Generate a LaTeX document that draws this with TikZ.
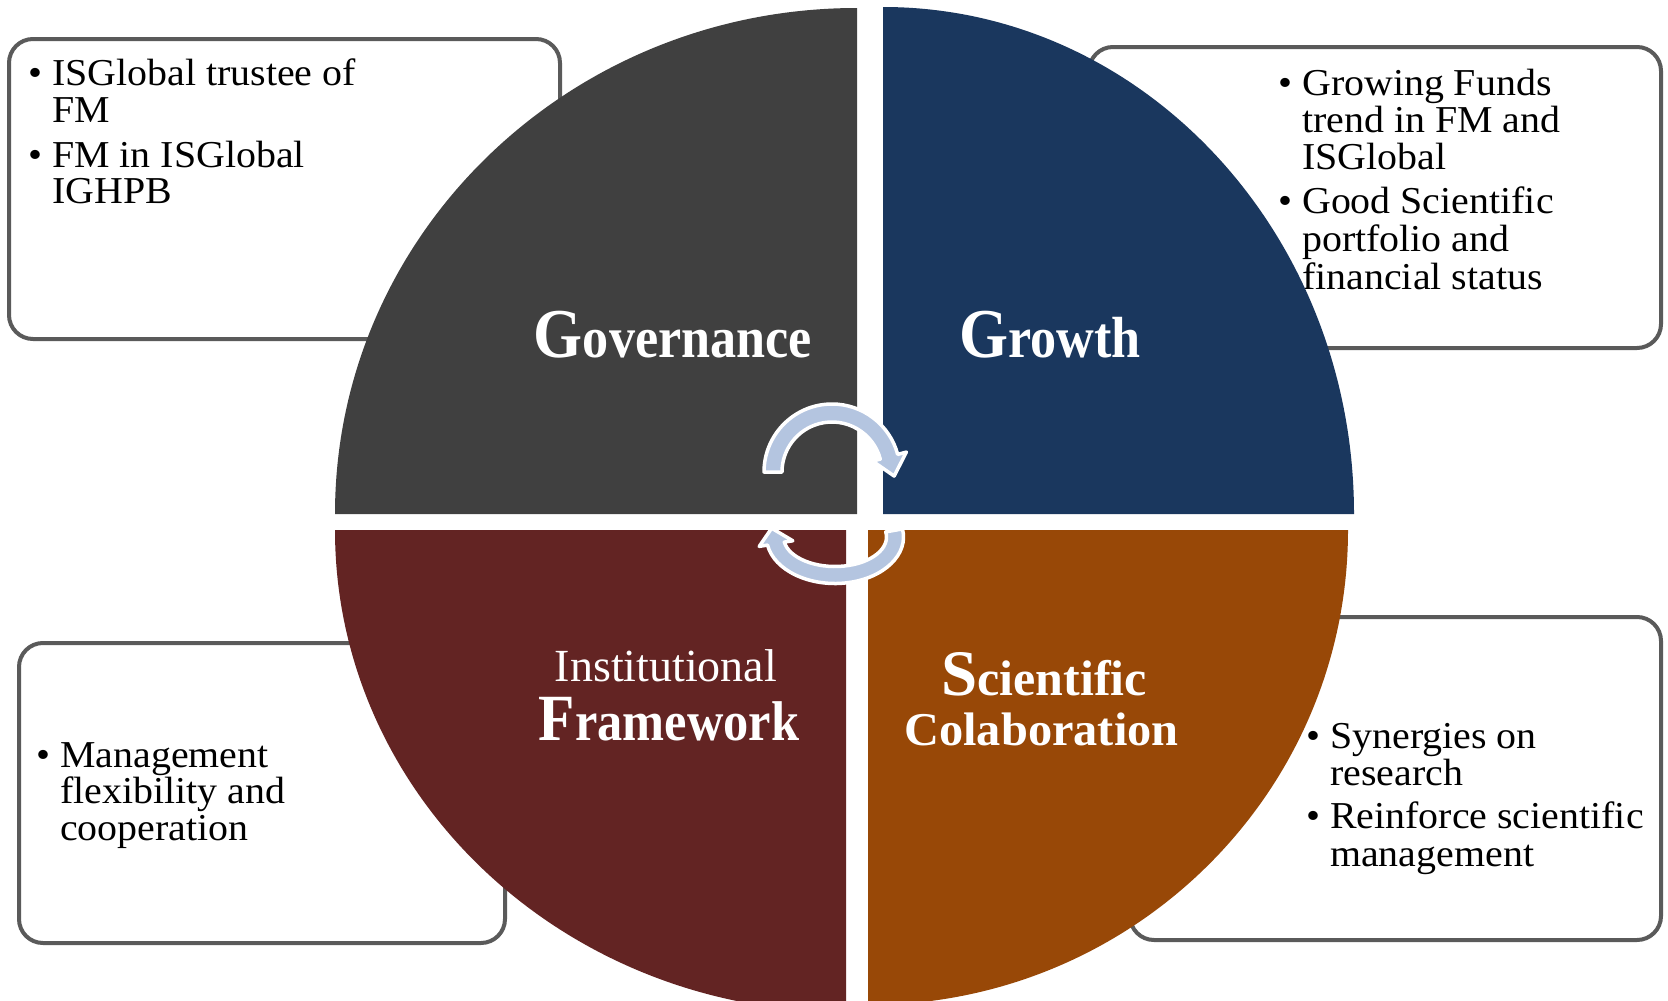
\documentclass[tikz,border=0pt]{standalone}
\usepackage{fontspec}
\setmainfont{Liberation Serif}
\newfontfamily\bodyf{Liberation Serif}[FakeStretch=1.05]
\newfontfamily\plainf{Liberation Serif}
\newfontfamily\headf{Liberation Serif}[FakeStretch=0.9]
\newfontfamily\widef{Liberation Serif}[FakeStretch=1.03]
\usetikzlibrary{calc}
\definecolor{secgray}{HTML}{404040}
\definecolor{secblue}{HTML}{1A375E}
\definecolor{secred}{HTML}{632423}
\definecolor{secorange}{HTML}{984807}
\definecolor{arrowblue}{HTML}{B4C5E0}
\definecolor{boxline}{HTML}{5A5A5A}
\tikzset{
  infobox/.style={draw=boxline, fill=white, line width=4pt, rounded corners=24pt, inner sep=0pt},
  bodyline/.style={anchor=base west, inner sep=0pt, font=\bodyf\fontsize{38}{38}\selectfont},
  bulletmark/.style={anchor=base west, inner sep=0pt, font=\bodyf\fontsize{38}{38}\selectfont},
  heading/.style={anchor=base, inner sep=0pt, text=white},
  cyclearrow/.style={fill=arrowblue, draw=white, line width=3.5pt, line join=round},
}
\begin{document}
\begin{tikzpicture}[x=1pt,y=1pt]
\useasboundingbox (0,0) rectangle (1668,-1001);
\fill[white] (0,0) rectangle (1668,-1001);

% ---- side boxes
\node[infobox, minimum width=551pt, minimum height=300pt] (boxTL) at (284.5,-189) {};
\node[infobox, minimum width=572pt, minimum height=301pt] (boxTR) at (1375,-197.5) {};
\node[infobox, minimum width=486pt, minimum height=300pt] (boxBL) at (262,-793) {};
\node[infobox, minimum width=531pt, minimum height=323pt] (boxBR) at (1395.5,-778.5) {};

% ---- box texts
% top left
\node[bulletmark] (tlb1) at (28,-85) {•};
\node[bodyline] (tl1) at (52,-85) {ISGlobal trustee of};
\node[bodyline] (tl2) at (52,-122) {FM};
\node[bulletmark] (tlb2) at (28,-167) {•};
\node[bodyline] (tl3) at (52,-167) {FM in ISGlobal};
\node[bodyline] (tl4) at (52,-203) {IGHPB};
% top right
\node[bulletmark] (trb1) at (1278,-95) {•};
\node[bodyline] (tr1) at (1302,-95) {Growing Funds};
\node[bodyline] (tr2) at (1302,-132) {trend in FM and};
\node[bodyline] (tr3) at (1302,-169) {ISGlobal};
\node[bulletmark] (trb2) at (1278,-213) {•};
\node[bodyline] (tr4) at (1302,-213) {Good Scientific};
\node[bodyline] (tr5) at (1302,-251) {portfolio and};
\node[bodyline] (tr6) at (1302,-289) {financial status};
% bottom left
\node[bulletmark] (blb1) at (36,-767) {•};
\node[bodyline] (bl1) at (60,-767) {Management};
\node[bodyline] (bl2) at (60,-803) {flexibility and};
\node[bodyline] (bl3) at (60,-840) {cooperation};
% bottom right
\node[bulletmark] (brb1) at (1306,-748) {•};
\node[bodyline] (br1) at (1330,-748) {Synergies on};
\node[bodyline] (br2) at (1330,-785) {research};
\node[bulletmark] (brb2) at (1306,-828) {•};
\node[bodyline] (br3) at (1330,-828) {Reinforce scientific};
\node[bodyline] (br4) at (1330,-866) {management};

% ---- four sectors
\fill[secgray] (857,-514) -- (335,-514) arc[start angle=180, end angle=90, x radius=522, y radius=506] -- cycle;
\fill[secblue] (883,-514) -- (883,-7) arc[start angle=90, end angle=0, x radius=471, y radius=507] -- cycle;
\fill[secred] (846,-530) -- (335,-530) arc[start angle=180, end angle=270, x radius=511, y radius=482] -- cycle;
\fill[secorange] (868,-530) -- (1348,-530) arc[start angle=0, end angle=-90, x radius=480, y radius=475] -- cycle;

% ---- headings
\node[heading, font=\headf\bfseries] (gov) at (673,-357)
  {\fontsize{70}{70}\selectfont G\fontsize{58}{58}\selectfont overnance};
\node[heading, font=\headf\bfseries] (gro) at (1050,-357)
  {\fontsize{70}{70}\selectfont G\fontsize{58}{58}\selectfont rowth};
\node[heading, font=\plainf\fontsize{46}{46}\selectfont] (inst) at (666,-681) {Institutional};
\node[heading, font=\headf\bfseries] (fra) at (669,-740)
  {\fontsize{66}{66}\selectfont F\fontsize{56}{56}\selectfont ramework};
\node[heading, font=\plainf\bfseries] (sci) at (1044,-695)
  {\fontsize{65}{65}\selectfont S\fontsize{50}{50}\selectfont cientific};
\node[heading, font=\widef\bfseries\fontsize{47}{47}\selectfont] (col) at (1041.5,-745) {Colaboration};

% ---- cycle arrows
\coordinate (c1) at (832,-472);
\path[cyclearrow] ($(c1)+(180:68)$) arc[start angle=180, end angle=15, radius=68]
  -- ($(c1)+(15:77)$) -- ($(c1)+(15:59)+(-75:20)$) -- ($(c1)+(15:42)$)
  -- ($(c1)+(15:50)$) arc[start angle=15, end angle=180, radius=50] -- cycle;

\coordinate (c2) at (835,-537);
\coordinate (flout) at (759.2,-546.4);
\coordinate (flin) at (792.8,-540.8);
\coordinate (tip2) at (771.7,-528.2);
\path[cyclearrow] ($(c2)+(10:68.5 and 46.5)$) arc[start angle=10, end angle=-170, x radius=68.5, y radius=46.5]
  -- (flout) -- (tip2) -- (flin)
  -- ($(c2)+(-170:51.5 and 29.5)$) arc[start angle=-170, end angle=10, x radius=51.5, y radius=29.5] -- cycle;
\end{tikzpicture}
\end{document}
